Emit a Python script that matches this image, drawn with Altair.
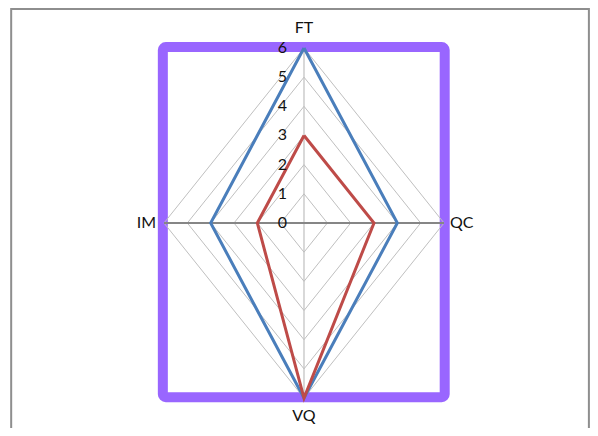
import math
import altair as alt
import pandas as pd

# ---- data ----
categories = ["FT", "QC", "VQ", "IM"]
angles_deg = [90, 0, -90, 180]
series_names = ["Series 1", "Series 2"]
series1_values = [6, 4, 6, 4]
series2_values = [3, 3, 6, 2]
tick_values = [0, 1, 2, 3, 4, 5, 6]
series_colors = ["#4A7EBB", "#BE4B48"]

FONT = "Lato"


def polar(v, a):
    r = math.radians(a)
    return v * math.cos(r), v * math.sin(r)


# series lines (closed polygons)
rows = []
for name, vals in zip(series_names, [series1_values, series2_values]):
    for i in range(len(categories) + 1):
        k = i % len(categories)
        x, y = polar(vals[k], angles_deg[k])
        rows.append({"series": name, "x": x, "y": y, "o": i})
lines_df = pd.DataFrame(rows)

# grid diamonds
grid_rows = []
for t in tick_values[1:]:
    for i in range(len(categories) + 1):
        k = i % len(categories)
        x, y = polar(t, angles_deg[k])
        grid_rows.append({"ring": t, "x": x, "y": y, "o": i})
grid_df = pd.DataFrame(grid_rows)

vmax = max(tick_values)
vspoke_df = pd.DataFrame({"x": [0, 0], "y": [-vmax, vmax], "o": [0, 1]})
hspoke_df = pd.DataFrame({"x": [-vmax, vmax], "y": [0, 0], "o": [0, 1]})
ticks_df = pd.DataFrame({"v": tick_values, "x": [0] * len(tick_values), "label": [str(t) for t in tick_values]})

W, H = 582, 420
xs = alt.Scale(domain=[-12.686, (8 + W - 304) / 23.333], nice=False, zero=False)
ys = alt.Scale(domain=[-7.028, 7.371], nice=False, zero=False)

X = lambda f: alt.X(f, type="quantitative", scale=xs, axis=None)
Y = lambda f: alt.Y(f, type="quantitative", scale=ys, axis=None)

base = alt.Chart(pd.DataFrame({"d": [0]}))

border = base.mark_rect(fill=None, stroke="#8E8E8E", strokeWidth=2, clip=True).encode(
    x=alt.datum(-12.55, type="quantitative", scale=xs, axis=None),
    x2=alt.datum(12.21),
    y=alt.datum(7.336, type="quantitative", scale=ys, axis=None),
    y2=alt.datum(-8.0),
)

frame = base.mark_rect(fill=None, stroke="#9966FF", strokeWidth=10, cornerRadius=3).encode(
    x=alt.datum(-6.05, type="quantitative", scale=xs, axis=None),
    x2=alt.datum(6.03),
    y=alt.datum(6.03, type="quantitative", scale=ys, axis=None),
    y2=alt.datum(-5.97),
)

grid = alt.Chart(grid_df).mark_line(color="#BFBFBF", strokeWidth=1).encode(
    x=X("x"), y=Y("y"), detail="ring:N", order="o:Q"
)

vspoke = alt.Chart(vspoke_df).mark_line(color="#BFBFBF", strokeWidth=1.2).encode(
    x=X("x"), y=Y("y"), order="o:Q"
)
hspoke = alt.Chart(hspoke_df).mark_line(color="#868686", strokeWidth=2.2).encode(
    x=X("x"), y=Y("y"), order="o:Q"
)

series = alt.Chart(lines_df).mark_line(strokeWidth=3, strokeJoin="miter").encode(
    x=X("x"),
    y=Y("y"),
    order="o:Q",
    color=alt.Color("series:N", scale=alt.Scale(domain=series_names, range=series_colors), legend=None),
)

ticks = alt.Chart(ticks_df).mark_text(
    align="right", baseline="middle", dx=-17, font=FONT, fontSize=16, color="#111111"
).encode(x=X("x"), y=Y("v"), text="label:N")

lbl_style = dict(font=FONT, fontSize=16, color="#111111", baseline="middle")
top_lbl = base.mark_text(align="center", **lbl_style).encode(
    x=alt.datum(0, type="quantitative", scale=xs, axis=None),
    y=alt.datum(6.70, type="quantitative", scale=ys, axis=None),
    text=alt.value(categories[0]),
)
right_lbl = base.mark_text(align="left", **lbl_style).encode(
    x=alt.datum(6.26, type="quantitative", scale=xs, axis=None),
    y=alt.datum(0, type="quantitative", scale=ys, axis=None),
    text=alt.value(categories[1]),
)
bottom_lbl = base.mark_text(align="center", **lbl_style).encode(
    x=alt.datum(0, type="quantitative", scale=xs, axis=None),
    y=alt.datum(-6.62, type="quantitative", scale=ys, axis=None),
    text=alt.value(categories[2]),
)
left_lbl = base.mark_text(align="right", **lbl_style).encode(
    x=alt.datum(-6.34, type="quantitative", scale=xs, axis=None),
    y=alt.datum(0, type="quantitative", scale=ys, axis=None),
    text=alt.value(categories[3]),
)

chart = (
    alt.layer(border, frame, grid, vspoke, hspoke, series, ticks, top_lbl, right_lbl, bottom_lbl, left_lbl)
    .properties(width=W, height=H, padding=0, autosize=alt.AutoSizeParams(type="none"))
    .configure_view(stroke=None)
)

chart.save("out.html", embed_options={"renderer": "svg", "actions": False})
